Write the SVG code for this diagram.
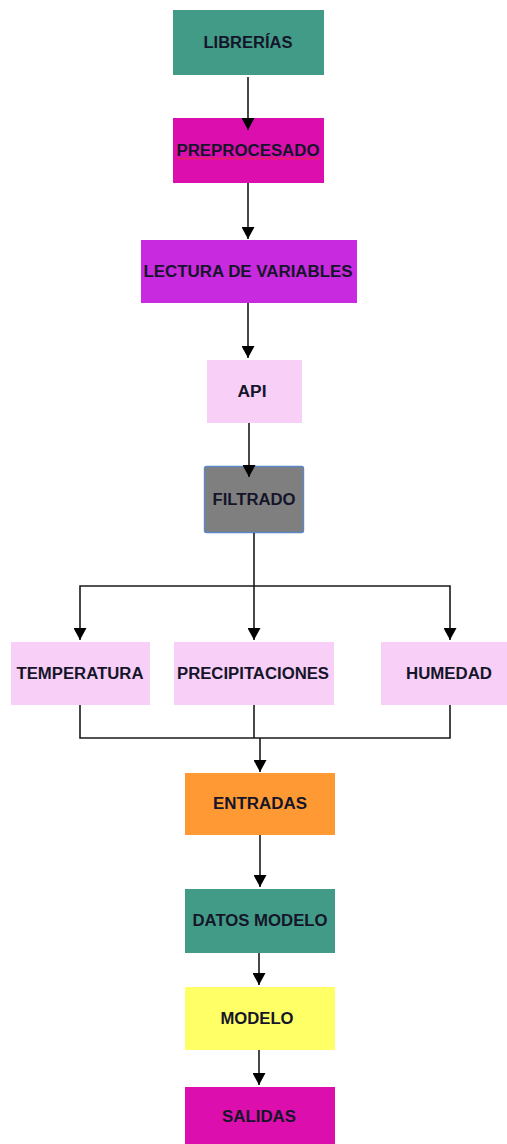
<svg xmlns="http://www.w3.org/2000/svg" width="507" height="1144" viewBox="0 0 507 1144">
  <style>
    .box { stroke: none; }
    .lbl { font-family: "Liberation Sans", Arial, sans-serif; font-weight: bold; font-size: 16px; fill: #15152a; text-anchor: middle; }
    .wire { fill: none; stroke: #1a1a1a; stroke-width: 1.6; }
    .arrow { fill: none; stroke: #1a1a1a; stroke-width: 1.6; marker-end: url(#head); }
  </style>
  <defs>
    <marker id="head" markerUnits="userSpaceOnUse" markerWidth="12" markerHeight="13" refX="12" refY="6.5" orient="auto" viewBox="0 0 12 13">
      <path d="M0,0 L12,6.5 L0,13 z" fill="#000"/>
    </marker>
  </defs>

  <rect width="507" height="1144" fill="#ffffff"/>

  <g id="nodes">
    <g id="librerias">
      <rect class="box" x="173" y="10" width="151" height="65" fill="#429b86"/>
      <text class="lbl" x="248" y="48" textLength="89" lengthAdjust="spacingAndGlyphs">LIBRERÍAS</text>
    </g>
    <g id="preprocesado">
      <rect class="box" x="173" y="118" width="151" height="65" fill="#dc0fae"/>
      <text class="lbl" x="248" y="156" textLength="143" lengthAdjust="spacingAndGlyphs">PREPROCESADO</text>
      <!-- spell-check underline -->
      <path d="M177,158.5 q1,-1.5 2,0 t2,0 t2,0 t2,0 t2,0 t2,0 t2,0 t2,0 t2,0 t2,0 t2,0 t2,0 t2,0 t2,0 t2,0 t2,0 t2,0 t2,0 t2,0 t2,0 t2,0 t2,0 t2,0 t2,0 t2,0 t2,0 t2,0 t2,0 t2,0 t2,0 t2,0 t2,0 t2,0 t2,0 t2,0 t2,0 t2,0 t2,0 t2,0 t2,0 t2,0 t2,0 t2,0 t2,0 t2,0 t2,0 t2,0 t2,0 t2,0 t2,0 t2,0 t2,0 t2,0 t2,0 t2,0 t2,0 t2,0 t2,0 t2,0 t2,0 t2,0 t2,0 t2,0 t2,0 t2,0 t2,0 t2,0 t2,0 t2,0 t2,0 t2,0" fill="none" stroke="#f0283a" stroke-width="1"/>
    </g>
    <g id="lectura">
      <rect class="box" x="141" y="240" width="216" height="63" fill="#c82ae0"/>
      <text class="lbl" x="248" y="277" textLength="209" lengthAdjust="spacingAndGlyphs">LECTURA DE VARIABLES</text>
    </g>
    <g id="api">
      <rect class="box" x="207" y="360" width="95" height="63" fill="#f7cff7"/>
      <text class="lbl" x="252" y="397" textLength="29" lengthAdjust="spacingAndGlyphs">API</text>
    </g>
    <g id="filtrado">
      <rect x="204.5" y="466.5" width="99" height="66" rx="2" fill="#7f7f7f" stroke="#5b87c4" stroke-width="1.4"/>
      <text class="lbl" x="254" y="505" textLength="83" lengthAdjust="spacingAndGlyphs">FILTRADO</text>
    </g>
    <g id="temperatura">
      <rect class="box" x="11" y="642" width="139" height="63" fill="#f7cff7"/>
      <text class="lbl" x="80" y="679" textLength="127" lengthAdjust="spacingAndGlyphs">TEMPERATURA</text>
    </g>
    <g id="precipitaciones">
      <rect class="box" x="174" y="642" width="160" height="63" fill="#f7cff7"/>
      <text class="lbl" x="253" y="679" textLength="152" lengthAdjust="spacingAndGlyphs">PRECIPITACIONES</text>
    </g>
    <g id="humedad">
      <rect class="box" x="381" y="642" width="126" height="63" fill="#f7cff7"/>
      <text class="lbl" x="449" y="679" textLength="86" lengthAdjust="spacingAndGlyphs">HUMEDAD</text>
    </g>
    <g id="entradas">
      <rect class="box" x="185" y="773" width="150" height="62" fill="#ff9933"/>
      <text class="lbl" x="260" y="809" textLength="94" lengthAdjust="spacingAndGlyphs">ENTRADAS</text>
    </g>
    <g id="datos-modelo">
      <rect class="box" x="185" y="889" width="150" height="64" fill="#429b86"/>
      <text class="lbl" x="260" y="926" textLength="135" lengthAdjust="spacingAndGlyphs">DATOS MODELO</text>
    </g>
    <g id="modelo">
      <rect class="box" x="185" y="987" width="150" height="63" fill="#ffff66"/>
      <text class="lbl" x="257" y="1024" textLength="73" lengthAdjust="spacingAndGlyphs">MODELO</text>
    </g>
    <g id="salidas">
      <rect class="box" x="185" y="1087" width="150" height="57" fill="#dc0fae"/>
      <text class="lbl" x="259" y="1122" textLength="74" lengthAdjust="spacingAndGlyphs">SALIDAS</text>
    </g>
  </g>

  <g id="connectors">
    <path class="arrow" d="M248,77 V130"/>
    <path class="arrow" d="M248,183 V239"/>
    <path class="arrow" d="M248,303 V358"/>
    <path class="arrow" d="M249,423 V477"/>
    <!-- fan-out from FILTRADO -->
    <path class="arrow" d="M254,533 V640"/>
    <path class="arrow" d="M254,586 H80 V640"/>
    <path class="arrow" d="M254,586 H450 V640"/>
    <!-- merge into ENTRADAS -->
    <path class="wire" d="M80,705 V738 H450 V705"/>
    <path class="wire" d="M254,705 V738"/>
    <path class="arrow" d="M260,738 V772"/>
    <path class="arrow" d="M260,835 V887"/>
    <path class="arrow" d="M259,953 V985"/>
    <path class="arrow" d="M259,1050 V1085"/>
  </g>
</svg>
